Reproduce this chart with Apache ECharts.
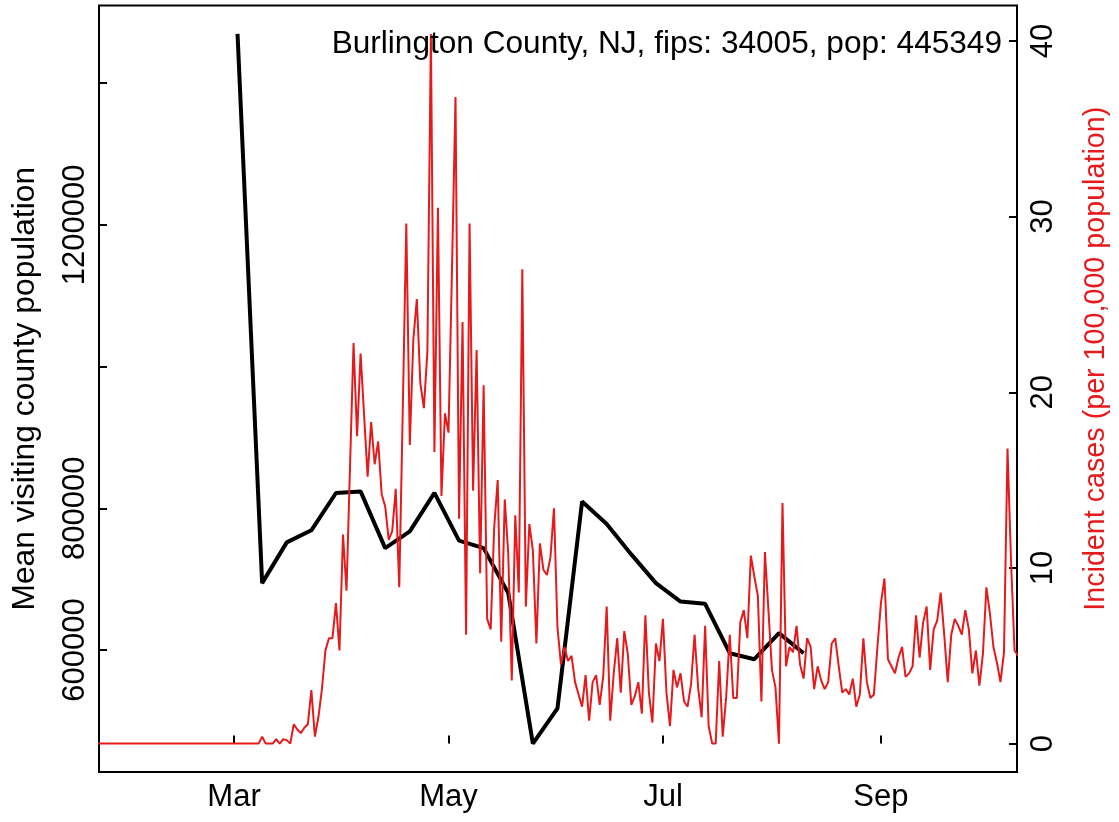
<!DOCTYPE html>
<html>
<head>
<meta charset="utf-8">
<script src="https://cdn.jsdelivr.net/npm/echarts@6/dist/echarts.min.js"></script>
<style>
html,body{margin:0;padding:0;background:#fff;}
#c{width:1119px;height:822px;}
</style>
</head>
<body>
<div id="c"></div>
<script>
// ---------- data ----------
const titleText = 'Burlington County, NJ, fips: 34005, pop: 445349';
const leftAxisName = 'Mean visiting county population';
const rightAxisName = 'Incident cases (per 100,000 population)';

// x-axis tick dates and labels
const xTickDates = ['2020-03-01', '2020-05-01', '2020-07-01', '2020-09-01'];
const xTickLabels = ['Mar', 'May', 'Jul', 'Sep'];

// left axis ticks / labels
const leftTicks = [600000, 800000, 1000000, 1200000, 1400000];
const leftLabels = [600000, 800000, 1200000];
// right axis ticks
const rightTicks = [0, 10, 20, 30, 40];

// weekly mean visiting county population (black)
const blackDates = ['2020-03-02','2020-03-09','2020-03-16','2020-03-23','2020-03-30','2020-04-06',
  '2020-04-13','2020-04-20','2020-04-27','2020-05-04','2020-05-11','2020-05-18','2020-05-25',
  '2020-06-01','2020-06-08','2020-06-15','2020-06-22','2020-06-29','2020-07-06','2020-07-13',
  '2020-07-20','2020-07-27','2020-08-03','2020-08-10'];
const blackValues = [1469300, 694500, 752000, 769000, 821600, 823900,
  743900, 767400, 821700, 754400, 743900, 680400, 468100,
  517900, 809700, 778000, 735000, 694500, 668500, 665300,
  595600, 587100, 623900, 595600];

// daily incident cases per 100,000 (red), first day below
const redStartDate = '2020-01-22';
const redValues = [
  // Jan 22 - Feb 29
  0,0,0,0,0,0,0,0,0,0, 0,0,0,0,0,0,0,0,0,0, 0,0,0,0,0,0,0,0,0,0, 0,0,0,0,0,0,0,0,0,
  // Mar 1 ...
  0,0,0,0,0,0,0,0,0.4,0, 0,0,0.25,0,0.25,0.2,0,1.1,0.8,0.6,
  0.9,1.1,3.05,0.4,1.5,3.1,5.3,6.0,6.0,8.0, 5.3,11.9,8.7,15.8,22.8,17.5,22.2,18.7,15.2,18.3,
  15.9,17.2,14.2,13.5,11.6,12.1,14.5,8.9,19.0,29.6, 17.0,23.0,25.3,20.5,19.1,22.3,40.4,16.6,30.5,14.1,
  18.8,17.7,27.0,36.8,12.8,24.0,6.2,29.6,14.4,22.4, 9.7,20.4,7.1,6.5,12.3,15.0,5.8,13.9,10.8,3.6,
  13.0,8.6,27.0,7.8,12.5,11.0,5.7,11.4,9.9,9.6, 10.6,13.4,6.6,4.5,5.5,4.7,5.0,3.5,2.8,2.1,
  3.9,1.3,3.5,3.9,2.2,3.8,7.8,1.3,4.0,6.0, 2.9,6.4,5.1,2.2,2.7,3.5,1.7,7.3,2.9,1.2,
  5.7,4.7,7.1,2.9,1.0,4.2,3.2,4.0,2.4,2.1, 3.4,6.2,3.2,1.5,6.7,1.0,0,0,4.7,0.4,
  2.7,6.2,2.6,2.6,6.9,7.6,6.0,10.7,9.5,8.4, 2.4,10.9,7.6,4.2,3.2,0,13.7,4.4,5.5,5.2,
  6.7,4.5,3.7,6.0,5.5,3.1,4.4,3.6,3.1,3.5, 5.7,6.0,4.4,2.9,3.1,2.8,3.7,2.1,2.8,6.0,
  3.5,2.6,2.8,5.5,8.0,9.4,4.8,4.4,4.0,4.9, 5.5,3.8,4.0,4.4,7.3,4.9,6.9,7.8,4.2,6.5,
  7.0,8.6,6.2,3.5,6.2,7.1,6.7,6.2,7.6,6.5, 4.0,5.3,3.3,5.1,8.9,7.4,5.5,4.6,3.5,5.2,
  16.8,10.4,5.3,5.0
];

// ---------- helpers ----------
const DAY = 86400000;
function ts(s){ const p = s.split('-').map(Number); return Date.UTC(p[0], p[1]-1, p[2]); }
const mar1 = ts('2020-03-01');
const xMin = mar1 - 38.4 * DAY;
const xMax = mar1 + 222.7 * DAY;
const xTickVals = xTickDates.map(ts);

const redData = redValues.map((v, i) => [ts(redStartDate) + i * DAY, v]);
const blackData = blackValues.map((v, i) => [ts(blackDates[i]), v]);

const FONT = '"Liberation Sans", Arial, Helvetica, sans-serif';
const RED = '#E41A1C';

const chart = echarts.init(document.getElementById('c'), null, {renderer: 'canvas', width: 1119, height: 822});
chart.setOption({
  animation: false,
  backgroundColor: '#ffffff',
  textStyle: {fontFamily: FONT},
  title: {
    text: titleText,
    right: 117, top: 28, padding: 0,
    textStyle: {fontSize: 31.6, fontWeight: 'normal', color: '#000', fontFamily: FONT}
  },
  grid: {
    left: 99, right: 98, top: 5.5, bottom: 50,
    show: true, borderColor: '#000', borderWidth: 2, backgroundColor: 'transparent'
  },
  xAxis: {
    type: 'value', min: xMin, max: xMax, scale: true,
    axisLine: {show: false},
    splitLine: {show: false},
    axisTick: {show: true, inside: true, length: 8, customValues: xTickVals, lineStyle: {color: '#000', width: 2}},
    axisLabel: {
      customValues: xTickVals, fontSize: 31, color: '#000', margin: 10, fontFamily: FONT,
      formatter: function (v) { const i = xTickVals.indexOf(v); return i >= 0 ? xTickLabels[i] : ''; }
    }
  },
  yAxis: [
    {
      type: 'value', position: 'left', min: 428000, max: 1509400,
      name: leftAxisName, nameLocation: 'middle', nameGap: 58, nameRotate: 90,
      nameTextStyle: {fontSize: 31.8, color: '#000', fontFamily: FONT},
      axisLine: {show: false}, splitLine: {show: false},
      axisTick: {show: true, inside: true, length: 8, customValues: leftTicks, lineStyle: {color: '#000', width: 2}},
      axisLabel: {customValues: leftLabels, rotate: 90, fontSize: 31, color: '#000', margin: 8, fontFamily: FONT,
        formatter: function (v) { return String(Math.round(v)); }}
    },
    {
      type: 'value', position: 'right', min: -1.616, max: 42.016,
      name: rightAxisName, nameLocation: 'middle', nameGap: 65, nameRotate: 90,
      nameTextStyle: {fontSize: 28.7, color: RED, fontFamily: FONT, padding: [0, 0, 0, 60]},
      axisLine: {show: false}, splitLine: {show: false},
      axisTick: {show: true, inside: true, length: 8, customValues: rightTicks, lineStyle: {color: '#000', width: 2}},
      axisLabel: {customValues: rightTicks, rotate: 90, fontSize: 31, color: '#000', margin: 11, fontFamily: FONT,
        formatter: function (v) { return String(Math.round(v)); }}
    }
  ],
  series: [
    {
      name: 'visiting', type: 'line', yAxisIndex: 0, data: blackData,
      symbol: 'none', lineStyle: {color: '#000', width: 4}, z: 2
    },
    {
      name: 'cases', type: 'line', yAxisIndex: 1, data: redData,
      symbol: 'none', lineStyle: {color: RED, width: 2}, z: 3, clip: true
    }
  ]
});
</script>
</body>
</html>
